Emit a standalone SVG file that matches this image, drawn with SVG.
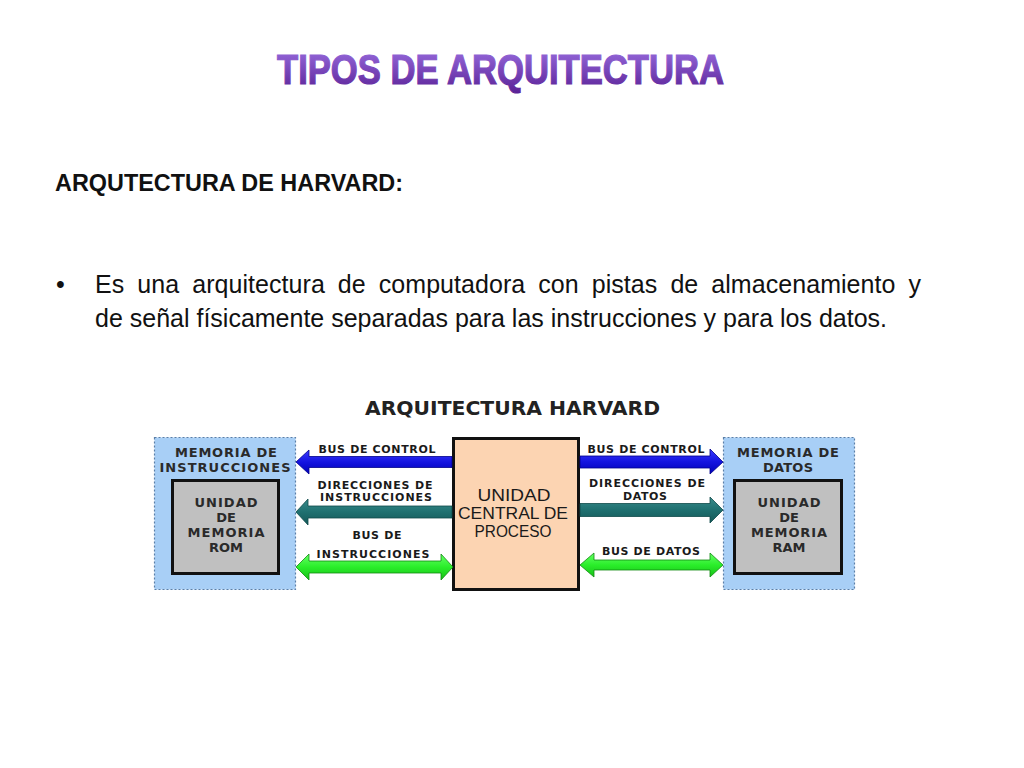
<svg xmlns="http://www.w3.org/2000/svg" width="1024" height="768" viewBox="0 0 1024 768">
  <defs>
    <linearGradient id="gTitle" x1="0" y1="0" x2="0" y2="1">
      <stop offset="0" stop-color="#9a6ee0"/>
      <stop offset="1" stop-color="#5a2196"/>
    </linearGradient>
    <linearGradient id="gBlue" x1="0" y1="0" x2="0" y2="1">
      <stop offset="0" stop-color="#3c3cff"/>
      <stop offset="0.5" stop-color="#1414e0"/>
      <stop offset="1" stop-color="#0000b8"/>
    </linearGradient>
    <linearGradient id="gTeal" x1="0" y1="0" x2="0" y2="1">
      <stop offset="0" stop-color="#3a8c8c"/>
      <stop offset="0.5" stop-color="#1f7070"/>
      <stop offset="1" stop-color="#145858"/>
    </linearGradient>
    <linearGradient id="gGreen" x1="0" y1="0" x2="0" y2="1">
      <stop offset="0" stop-color="#66ff66"/>
      <stop offset="0.5" stop-color="#2aee2a"/>
      <stop offset="1" stop-color="#18c018"/>
    </linearGradient>
  </defs>
  <style>
    .slide { font-family: "Liberation Sans", Arial, sans-serif; fill: #111; }
    .dtitle { font-family: "DejaVu Sans", Verdana, sans-serif; font-weight: bold; fill: #222; }
    .lbl { font-family: "DejaVu Sans", Verdana, sans-serif; font-weight: bold; font-size: 11px; fill: #1a1a1a; text-anchor: middle; }
    .box { font-family: "DejaVu Sans", Verdana, sans-serif; font-weight: bold; font-size: 13px; fill: #2a2a2a; text-anchor: middle; }
    .cpu { font-family: "Liberation Sans", Arial, sans-serif; font-size: 16px; fill: #1a1a1a; text-anchor: middle; }
    .outer { fill: #a8cff6; stroke: #5a7fa8; stroke-width: 1.2; stroke-dasharray: 2 2; }
    .inner { fill: #c0c0c0; stroke: #111; stroke-width: 3; }
    .blue { fill: url(#gBlue); stroke: #00008a; stroke-width: 0.8; }
    .teal { fill: url(#gTeal); stroke: #0f4a4a; stroke-width: 0.8; }
    .green { fill: url(#gGreen); stroke: #108a10; stroke-width: 0.8; }
  </style>
  <rect width="1024" height="768" fill="#ffffff"/>

  <g id="title">
    <text x="277" y="84" font-family="'Liberation Sans', Arial, sans-serif" font-weight="bold" font-size="42" fill="url(#gTitle)" stroke="url(#gTitle)" stroke-width="1.2" textLength="447" lengthAdjust="spacingAndGlyphs">TIPOS DE ARQUITECTURA</text>
  </g>

  <g id="heading">
    <text class="slide" x="55" y="191" font-size="24" font-weight="bold" textLength="348" lengthAdjust="spacingAndGlyphs">ARQUTECTURA DE HARVARD:</text>
  </g>

  <g id="bullet">
    <text class="slide" x="56" y="293" font-size="25">•</text>
    <text class="slide" x="95" y="293" font-size="25" textLength="826" lengthAdjust="spacing" word-spacing="6">Es una arquitectura de computadora con pistas de almacenamiento y</text>
    <text class="slide" x="95" y="327" font-size="25" textLength="792" lengthAdjust="spacing">de señal físicamente separadas para las instrucciones y para los datos.</text>
  </g>

  <g id="diagram-title">
    <text class="dtitle" x="365" y="415" font-size="20" textLength="295" lengthAdjust="spacingAndGlyphs">ARQUITECTURA HARVARD</text>
  </g>

  <g id="memoria-instrucciones">
    <rect class="outer" x="154.5" y="437.5" width="141" height="152"/>
    <text class="box" x="226" y="457" textLength="102" lengthAdjust="spacing">MEMORIA DE</text>
    <text class="box" x="225" y="472" textLength="131" lengthAdjust="spacing">INSTRUCCIONES</text>
    <rect class="inner" x="172.5" y="480.5" width="106" height="93"/>
    <text class="box" x="226" y="507" textLength="63" lengthAdjust="spacing">UNIDAD</text>
    <text class="box" x="226" y="522">DE</text>
    <text class="box" x="226" y="537" textLength="77" lengthAdjust="spacing">MEMORIA</text>
    <text class="box" x="226" y="552">ROM</text>
  </g>

  <g id="cpu">
    <rect x="453.5" y="438.5" width="125" height="151" fill="#fcd4b2" stroke="#111" stroke-width="3"/>
    <text class="cpu" x="514" y="501" textLength="73" lengthAdjust="spacingAndGlyphs">UNIDAD</text>
    <text class="cpu" x="513" y="519" textLength="110" lengthAdjust="spacingAndGlyphs">CENTRAL DE</text>
    <text class="cpu" x="513" y="537" textLength="77" lengthAdjust="spacingAndGlyphs">PROCESO</text>
  </g>

  <g id="memoria-datos">
    <rect class="outer" x="723.5" y="437.5" width="131" height="152"/>
    <text class="box" x="788" y="457" textLength="102" lengthAdjust="spacing">MEMORIA DE</text>
    <text class="box" x="788" y="472" textLength="50" lengthAdjust="spacing">DATOS</text>
    <rect class="inner" x="734.5" y="480.5" width="107" height="93"/>
    <text class="box" x="789" y="507" textLength="63" lengthAdjust="spacing">UNIDAD</text>
    <text class="box" x="789" y="522">DE</text>
    <text class="box" x="789" y="537" textLength="76" lengthAdjust="spacing">MEMORIA</text>
    <text class="box" x="789" y="552">RAM</text>
  </g>

  <g id="connectors">
    <polygon class="blue" points="296,462 309,450 309,456.5 452,456.5 452,467.5 309,467.5 309,474"/>
    <polygon class="teal" points="296,512 308,499 308,506 452,506 452,518 308,518 308,525"/>
    <polygon class="green" points="296,567 309,554 309,561 441,561 441,554 453,567 441,580 441,573 309,573 309,580"/>
    <polygon class="blue" points="580,456 710,456 710,449 723,462 710,474 710,468 580,468"/>
    <polygon class="teal" points="580,503.5 710,503.5 710,497 723,510 710,523 710,516.5 580,516.5"/>
    <polygon class="green" points="580,565 594,553 594,560 710,560 710,553 723,565 710,577 710,570 594,570 594,577"/>

    <text class="lbl" x="377" y="453" textLength="117" lengthAdjust="spacing">BUS DE CONTROL</text>
    <text class="lbl" x="375" y="489" textLength="115" lengthAdjust="spacing">DIRECCIONES DE</text>
    <text class="lbl" x="376" y="501" textLength="112" lengthAdjust="spacing">INSTRUCCIONES</text>
    <text class="lbl" x="377" y="539" textLength="49" lengthAdjust="spacing">BUS DE</text>
    <text class="lbl" x="373" y="558" textLength="113" lengthAdjust="spacing">INSTRUCCIONES</text>

    <text class="lbl" x="646" y="453" textLength="117" lengthAdjust="spacing">BUS DE CONTROL</text>
    <text class="lbl" x="647" y="487" textLength="116" lengthAdjust="spacing">DIRECCIONES DE</text>
    <text class="lbl" x="645" y="500" textLength="44" lengthAdjust="spacing">DATOS</text>
    <text class="lbl" x="651" y="555" textLength="98" lengthAdjust="spacing">BUS DE DATOS</text>
  </g>
</svg>
